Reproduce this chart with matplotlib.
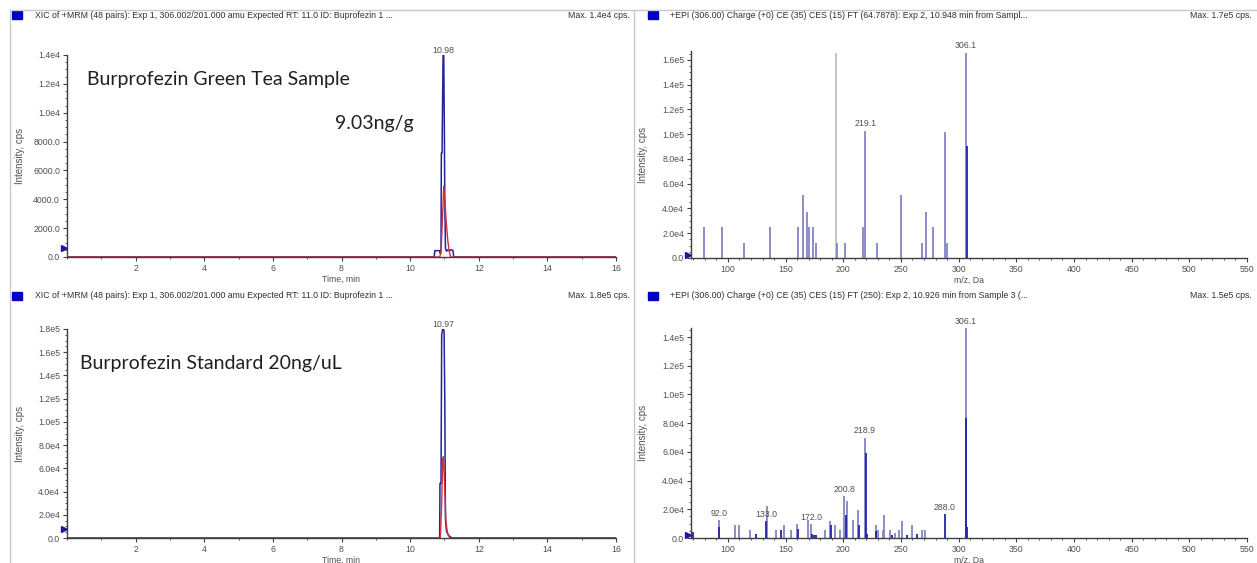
import matplotlib
matplotlib.use("Agg")
import matplotlib.pyplot as plt
from matplotlib.ticker import FuncFormatter, MultipleLocator
from matplotlib.lines import Line2D

# ---- chromatograms (XIC of +MRM 306.002/201.000) ----
# green tea sample
tea_blue_t = [0, 10.70, 10.72, 10.86, 10.88, 10.90, 10.91, 10.93, 10.96, 10.98,
              11.00, 11.01, 11.03, 11.06, 11.10, 11.15, 11.20, 11.25, 11.27, 16]
tea_blue_i = [0, 0, 440, 440, 250, 450, 7200, 7200, 14000, 14000,
              8100, 4000, 600, 400, 500, 450, 500, 440, 0, 0]
tea_red_t = [0, 10.86, 10.90, 10.94, 10.98, 11.02, 11.06, 11.10, 11.14, 11.18, 16]
tea_red_i = [0, 0, 300, 2500, 4900, 3600, 2200, 1100, 400, 0, 0]
tea_rt = 10.98

# 20 ng/uL standard
std_blue_t = [0, 10.86, 10.87, 10.90, 10.92, 10.95, 10.97, 10.99, 11.01, 11.03,
              11.06, 11.10, 11.15, 11.20, 11.23, 16]
std_blue_i = [0, 0, 4.7e4, 4.7e4, 1.75e5, 1.8e5, 1.8e5, 1.78e5, 1.2e5, 1.6e4,
              6e3, 3e3, 1.5e3, 500, 0, 0]
std_red_t = [0, 10.88, 10.92, 10.95, 10.97, 11.00, 11.04, 11.08, 11.12, 11.16, 16]
std_red_i = [0, 0, 3e4, 6.8e4, 7.0e4, 5e4, 1.6e4, 6e3, 2e3, 0, 0]
std_rt = 10.97

# ---- EPI spectra ----
tea_mz = [79.2, 95.1, 113.6, 136.1, 161.0, 164.8, 168.8, 170.3, 173.4, 176.3,
          194.8, 201.2, 217.4, 219.1, 229.2, 250.0, 268.5, 271.7, 277.5, 288.2,
          290.2, 306.1]
tea_int = [2.5e4, 2.5e4, 1.25e4, 2.5e4, 2.5e4, 5.05e4, 3.75e4, 2.5e4, 2.5e4, 1.25e4,
           1.25e4, 1.25e4, 2.5e4, 1.03e5, 1.25e4, 5.05e4, 1.25e4, 3.75e4, 2.5e4, 1.02e5,
           1.25e4, 1.66e5]
tea_dark_mz = [307.0]
tea_dark_int = [9.05e4]
tea_precursor_mz = [193.7]
tea_precursor_int = [1.66e5]
tea_labels = [(219.1, 1.03e5, "219.1"), (306.1, 1.66e5, "306.1")]

std_mz = [92.0, 106.3, 109.8, 119.0, 134.3, 142.1, 148.7, 154.5, 159.7, 169.0,
          171.8, 183.9, 188.3, 192.9, 196.9, 200.8, 203.3, 208.2, 213.1, 218.9,
          228.1, 230.4, 234.4, 235.6, 240.5, 244.8, 248.2, 250.6, 259.8, 268.5,
          270.5, 306.1]
std_int = [1.28e4, 9.3e3, 8.8e3, 5.8e3, 2.25e4, 5.8e3, 8.8e3, 5.8e3, 9.7e3, 1.23e4,
           9.7e3, 5.8e3, 1.21e4, 8.8e3, 5.8e3, 2.95e4, 2.6e4, 1.23e4, 1.93e4, 7.0e4,
           9.1e3, 5.8e3, 5.8e3, 1.58e4, 5.8e3, 3.5e3, 5.8e3, 1.21e4, 8.8e3, 5.8e3,
           5.8e3, 1.46e5]
std_dark_mz = [70.0, 92.5, 124.2, 133.0, 145.9, 160.5, 172.5, 174.7, 176.7, 189.7,
               202.5, 213.5, 219.3, 221.0, 228.5, 242.5, 254.9, 263.6, 288.0, 306.5,
               307.5]
std_dark_int = [4e3, 8e3, 2.8e3, 1.2e4, 5.8e3, 6e3, 3e3, 2.3e3, 2.3e3, 8.8e3,
                1.6e4, 9e3, 5.9e4, 2.5e3, 5e3, 2.3e3, 2.3e3, 2.8e3, 1.67e4, 8.36e4,
                8e3]
std_labels = [(92.0, 1.28e4, "92.0"), (133.0, 1.2e4, "133.0"), (172.0, 9.7e3, "172.0"),
              (200.8, 2.95e4, "200.8"), (218.9, 7.0e4, "218.9"),
              (288.0, 1.67e4, "288.0"), (306.1, 1.46e5, "306.1")]

header_xic = "XIC of +MRM (48 pairs): Exp 1, 306.002/201.000 amu Expected RT: 11.0 ID: Buprofezin 1 ..."
header_tea_epi = "+EPI (306.00) Charge (+0) CE (35) CES (15) FT (64.7878): Exp 2, 10.948 min from Sampl..."
header_std_epi = "+EPI (306.00) Charge (+0) CE (35) CES (15) FT (250): Exp 2, 10.926 min from Sample 3 (..."

W, H = 1257, 563
BLUE = "#24249c"
RED = "#d0303c"
LIGHT = "#8585c4"
DARK = "#2222b0"
GREY_TXT = "#505050"
SMALL = 6.3
NOTE = 14
FONT = ["Liberation Sans", "DejaVu Sans"]
NOTE_FONT = ["Lato", "DejaVu Sans"]

plt.rcParams["font.family"] = FONT

fig = plt.figure(figsize=(W / 100, H / 100), dpi=100)


def axes_px(x0, x1, y_top, y_bot):
    return fig.add_axes([x0 / W, 1 - y_bot / H, (x1 - x0) / W, (y_bot - y_top) / H])


def intensity_fmt(v, pos):
    if abs(v) < 1e4:
        return f"{v:.1f}"
    s = f"{v:.1e}"
    return s.replace("e+0", "e").replace("e+", "e")


def style_axes(ax, xlabel, ylabel_x):
    for side in ("top", "right"):
        ax.spines[side].set_visible(False)
    for side in ("left", "bottom"):
        ax.spines[side].set_color("#404040")
        ax.spines[side].set_linewidth(1.0)
    ax.tick_params(which="major", direction="out", length=3, width=0.8, colors="#404040",
                   labelsize=SMALL, labelcolor=GREY_TXT, pad=2)
    ax.tick_params(which="minor", direction="out", length=1.5, width=0.6, colors="#404040")
    ax.yaxis.set_major_formatter(FuncFormatter(intensity_fmt))
    ax.set_ylabel("Intensity, cps", fontsize=SMALL + 0.7, color=GREY_TXT)
    ax.yaxis.set_label_coords(ylabel_x, 0.5)
    ax.set_xlabel(xlabel, fontsize=SMALL, color=GREY_TXT, labelpad=1)
    ax.set_facecolor("none")


def start_marker(ax, frac):
    ax.plot([-0.005], [frac], marker=">", ms=5, color="#1a1a9a", transform=ax.transAxes,
            clip_on=False, zorder=5)


def header(x_sq, x_txt, x_right, y, text, maxtext):
    fig.patches.append(plt.Rectangle((x_sq / W, 1 - (y + 4) / H), 10 / W, 8 / H,
                                     transform=fig.transFigure, color="#0000c8"))
    fig.text(x_txt / W, 1 - y / H, text, fontsize=SMALL, color="#303030", va="center")
    fig.text(x_right / W, 1 - y / H, maxtext, fontsize=SMALL, color="#303030",
             va="center", ha="right")


# panel frames
for (x0, y0, x1, y1) in [(10, 10, 1257, 10), (10, 10, 10, 563), (634, 10, 634, 563)]:
    fig.add_artist(Line2D([x0 / W, x1 / W], [1 - y0 / H, 1 - y1 / H], color="#c8c8c8", lw=1))

# ---- chromatogram panels ----
ax_tea = axes_px(67, 616, 55, 257)
ax_std = axes_px(67, 616, 329, 538)
for ax, bt, bi, rt_, ri, ymax, step, rt, frac in [
        (ax_tea, tea_blue_t, tea_blue_i, tea_red_t, tea_red_i, 1.4e4, 2000, tea_rt, 0.045),
        (ax_std, std_blue_t, std_blue_i, std_red_t, std_red_i, 1.8e5, 2e4, std_rt, 0.043)]:
    ax.plot(bt, bi, color=BLUE, lw=1.1)
    ax.plot(rt_, ri, color=RED, lw=1.0)
    ax.set_xlim(0, 16)
    ax.set_ylim(0, ymax)
    ax.set_xticks(range(2, 17, 2))
    ax.xaxis.set_minor_locator(MultipleLocator(1))
    ax.yaxis.set_major_locator(MultipleLocator(step))
    ax.yaxis.set_minor_locator(MultipleLocator(step / 4))
    style_axes(ax, "Time, min", (24.5 - 67) / 549)
    ax.text(rt, max(bi), f"{rt:.2f}", fontsize=SMALL, color=GREY_TXT, ha="center",
            va="bottom", clip_on=False)
    start_marker(ax, frac)

fig.text(87 / W, 1 - 80 / H, "Burprofezin Green Tea Sample", fontsize=NOTE,
         family=NOTE_FONT, color="#202020", va="center")
fig.text(335 / W, 1 - 124 / H, "9.03ng/g", fontsize=NOTE,
         family=NOTE_FONT, color="#202020", va="center")
fig.text(80 / W, 1 - 363 / H, "Burprofezin Standard 20ng/uL", fontsize=NOTE,
         family=NOTE_FONT, color="#202020", va="center")

# ---- spectrum panels ----
ax_tms = axes_px(691, 1247, 51.3, 258)
ax_sms = axes_px(691, 1247, 328.4, 538)
ax_tms.vlines(tea_precursor_mz, 0, tea_precursor_int, color="#b4b4b4", lw=1.1)
ax_tms.vlines(tea_mz, 0, tea_int, color=LIGHT, lw=1.3)
ax_tms.vlines(tea_dark_mz, 0, tea_dark_int, color=DARK, lw=1.3)
ax_sms.vlines(std_mz, 0, std_int, color=LIGHT, lw=1.3)
ax_sms.vlines(std_dark_mz, 0, std_dark_int, color=DARK, lw=1.3)

for ax, ymax, labels in [(ax_tms, 1.67e5, tea_labels), (ax_sms, 1.46e5, std_labels)]:
    ax.set_xlim(68, 550)
    ax.set_ylim(0, ymax)
    ax.xaxis.set_major_locator(MultipleLocator(50))
    ax.xaxis.set_minor_locator(MultipleLocator(10))
    ax.yaxis.set_major_locator(MultipleLocator(2e4))
    ax.yaxis.set_minor_locator(MultipleLocator(5e3))
    style_axes(ax, "m/z, Da", (648.5 - 691) / 556)
    for mz, val, lab in labels:
        ax.text(mz, val + ymax * 0.01, lab, fontsize=SMALL, color=GREY_TXT, ha="center",
                va="bottom", clip_on=False)
    start_marker(ax, 0.015)

# ---- panel headers ----
header(12, 35, 630, 15, header_xic, "Max. 1.4e4 cps.")
header(648, 670, 1252, 15, header_tea_epi, "Max. 1.7e5 cps.")
header(12, 35, 630, 296, header_xic, "Max. 1.8e5 cps.")
header(648, 670, 1252, 296, header_std_epi, "Max. 1.5e5 cps.")

fig.savefig("out.png", dpi=100)
